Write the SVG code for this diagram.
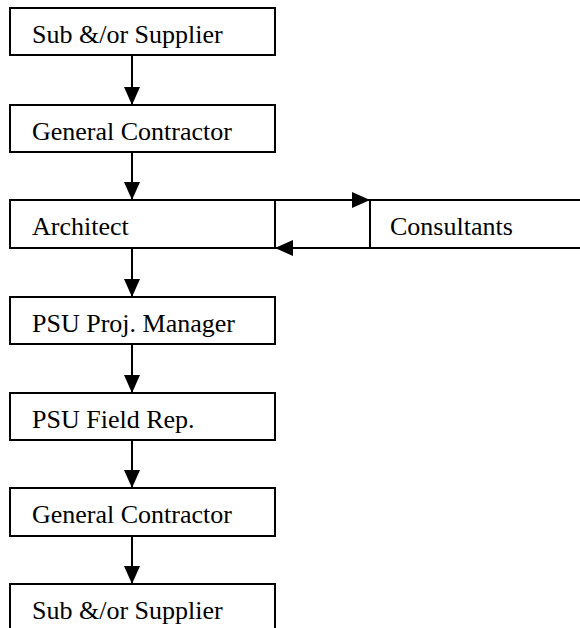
<svg xmlns="http://www.w3.org/2000/svg" width="580" height="628" viewBox="0 0 580 628">
<defs>
<style>
.box{fill:#fff;stroke:#000;stroke-width:2}
.t{font-family:'Liberation Serif','DejaVu Serif',serif;font-size:26px;fill:#000}
.c{stroke:#000;stroke-width:2;fill:none}
</style>
<marker id="a" viewBox="0 0 18 16" refX="18" refY="8" markerWidth="18" markerHeight="16" orient="auto" markerUnits="userSpaceOnUse">
<path d="M0,0 L18,8 L0,16 Z" fill="#000"/>
</marker>
</defs>
<rect width="580" height="628" fill="#fff"/>
<g id="n1"><rect class="box" x="10" y="8" width="265" height="47"/><text class="t" font-family="Liberation Serif" x="32" y="43">Sub &amp;/or Supplier</text></g>
<g id="n2"><rect class="box" x="10" y="105" width="265" height="47"/><text class="t" font-family="Liberation Serif" x="32" y="140">General Contractor</text></g>
<g id="n3"><rect class="box" x="10" y="200" width="265" height="48"/><text class="t" font-family="Liberation Serif" x="32" y="235">Architect</text></g>
<g id="n4"><rect class="box" x="370" y="200" width="212" height="48"/><text class="t" font-family="Liberation Serif" x="390" y="235">Consultants</text></g>
<g id="n5"><rect class="box" x="10" y="297" width="265" height="47"/><text class="t" font-family="Liberation Serif" x="32" y="332">PSU Proj. Manager</text></g>
<g id="n6"><rect class="box" x="10" y="393" width="265" height="47"/><text class="t" font-family="Liberation Serif" x="32" y="428">PSU Field Rep.</text></g>
<g id="n7"><rect class="box" x="10" y="488" width="265" height="48"/><text class="t" font-family="Liberation Serif" x="32" y="523">General Contractor</text></g>
<g id="n8"><rect class="box" x="10" y="584" width="265" height="60"/><text class="t" font-family="Liberation Serif" x="32" y="619">Sub &amp;/or Supplier</text></g>
<g id="connectors">
<line class="c" x1="132" y1="55" x2="132" y2="105" marker-end="url(#a)"/>
<line class="c" x1="132" y1="152" x2="132" y2="200" marker-end="url(#a)"/>
<line class="c" x1="132" y1="248" x2="132" y2="297" marker-end="url(#a)"/>
<line class="c" x1="132" y1="344" x2="132" y2="393" marker-end="url(#a)"/>
<line class="c" x1="132" y1="440" x2="132" y2="488" marker-end="url(#a)"/>
<line class="c" x1="132" y1="536" x2="132" y2="584" marker-end="url(#a)"/>
<polyline class="c" points="275,248 275,200 370,200" marker-end="url(#a)"/>
<line class="c" x1="370" y1="248" x2="275" y2="248" marker-end="url(#a)"/>
</g>
</svg>
